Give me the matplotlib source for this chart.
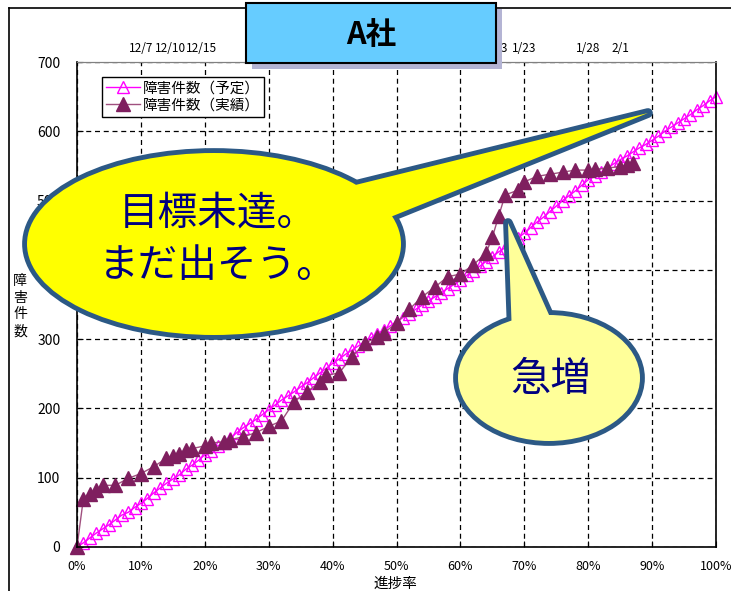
import matplotlib.pyplot as plt
import matplotlib.patches as mpatches
import matplotlib.transforms as mtransforms
from matplotlib.lines import Line2D
from matplotlib.ticker import PercentFormatter

plt.rcParams['font.family'] = ['Noto Sans CJK JP', 'DejaVu Sans']

# 障害件数(予定): 進捗率 0%〜100%
plan_pct = list(range(0, 101))
plan_cnt = [0, 6, 13, 20, 26, 32, 39, 46, 50, 57,
            63, 70, 78, 85, 92, 98, 104, 112, 118, 125,
            133, 139, 146, 150, 157, 165, 172, 178, 184, 191,
            198, 205, 212, 218, 224, 231, 237, 244, 251, 258,
            265, 271, 278, 284, 290, 296, 302, 308, 313, 319,
            325, 331, 337, 343, 349, 355, 361, 367, 373, 379,
            385, 392, 399, 405, 412, 419, 426, 432, 439, 446,
            453, 461, 469, 476, 484, 492, 500, 507, 514, 522,
            530, 536, 541, 547, 553, 559, 564, 570, 576, 581,
            587, 593, 600, 606, 612, 618, 624, 631, 637, 644,
            650]

# 障害件数(実績)
act_pct = [0, 1, 2, 3, 4, 6, 8, 10, 12, 14, 15, 16, 17, 18, 20, 21, 23, 24,
           26, 28, 30, 32, 34, 36, 38, 39, 41, 43, 45, 47, 48, 50, 52, 54,
           56, 58, 60, 62, 64, 65, 66, 67, 69, 70, 72, 74, 76, 78, 80, 81,
           83, 85, 86, 87]
act_cnt = [0, 70, 77, 82, 89, 89, 99, 106, 116, 128, 131, 134, 140, 142,
           146, 150, 152, 155, 159, 165, 174, 182, 210, 224, 238, 248, 251,
           274, 294, 303, 309, 323, 343, 361, 375, 390, 394, 407, 424, 447,
           478, 508, 515, 527, 535, 538, 541, 544, 544, 545, 547, 549, 551,
           554]

# 上軸の日付
date_pos = [10, 14.6, 19.5, 65.6, 70, 80, 85]
date_lbl = ['12/7', '12/10', '12/15', '1/13', '1/23', '1/28', '2/1']

W, H = 731, 591
fig = plt.figure(figsize=(W / 100, H / 100), dpi=100)
ax = fig.add_axes([77 / W, 1 - 547 / H, (716 - 77) / W, (547 - 62) / H])

# 左上原点のピクセル座標
px = mtransforms.Affine2D().scale(1 / W, -1 / H).translate(0, 1) + fig.transFigure

ax.plot(plan_pct, plan_cnt, color='#FF00FF', lw=1, marker='^', ms=9,
        mfc='none', mec='#FF00FF', mew=1, label='障害件数（予定）', clip_on=False)
ax.plot(act_pct, act_cnt, color='#A0507F', lw=1, marker='^', ms=10,
        mfc='#7F1F5F', mec='#7F1F5F', label='障害件数（実績）', clip_on=False)

ax.set_xlim(0, 100)
ax.set_ylim(0, 700)
ax.set_xticks(range(0, 101, 10))
ax.set_yticks(range(0, 701, 100))
ax.xaxis.set_major_formatter(PercentFormatter(decimals=0))
ax.grid(True, color='black', ls=(0, (4, 3)), lw=0.9)
ax.tick_params(axis='y', direction='in', length=4, labelsize=10, pad=12)
ax.tick_params(axis='x', direction='in', length=4, labelsize=9, pad=9)
for s in ('left', 'bottom', 'right'):
    ax.spines[s].set_linewidth(1.2)
ax.spines['top'].set_color('#808080')

top = ax.secondary_xaxis('top')
top.set_xticks(date_pos, date_lbl)
top.tick_params(length=0, labelsize=8.5, pad=5)
top.spines['top'].set_color('#808080')

ax.legend(loc='upper left', bbox_to_anchor=(102 / W, 1 - 77 / H),
          bbox_transform=fig.transFigure, borderaxespad=0, fancybox=False,
          edgecolor='black', framealpha=1, fontsize=10.5, labelspacing=0.2,
          handlelength=2.3, handletextpad=0.2, borderpad=0.3)

fig.text(20, 306, '障\n害\n件\n数', transform=px, ha='center', va='center',
         fontsize=10, linespacing=1.25)
fig.text(395, 584, '進捗率', transform=px, ha='center', va='center', fontsize=10.5)

# 外枠
fig.add_artist(Line2D([9, W], [8, 8], transform=px, color='black', lw=1.2))
fig.add_artist(Line2D([9, 9], [8, H], transform=px, color='black', lw=1.2))

# タイトルボックス
fig.add_artist(mpatches.Rectangle((252, 9), 250, 60, transform=px,
                                  fc='#B4B4D4', ec='none', zorder=2))
fig.add_artist(mpatches.Rectangle((246, 3), 250, 60, transform=px,
                                  fc='#66CCFF', ec='black', lw=1.5, zorder=3))
fig.text(371, 35, 'A社', transform=px, ha='center', va='center',
         fontsize=22, fontweight='bold', zorder=4)


def callout(center, width, height, tail, fc, ec, lw):
    # 枠線付きで描いた後に塗りだけ重ねて、楕円と尻尾の輪郭をつなげる
    for zo, edge in ((5, True), (6, False)):
        kw = dict(transform=px, zorder=zo, fc=fc,
                  ec=ec if edge else 'none', lw=2 * lw if edge else 0,
                  joinstyle='round')
        fig.add_artist(mpatches.Polygon(tail, closed=True, **kw))
        fig.add_artist(mpatches.Ellipse(center, width, height, **kw))


callout((214, 244), 374, 182, [(335, 190), (378, 222), (648, 113)],
        '#FFFF00', '#2C5985', 3.5)
fig.text(218, 240, '目標未達。\nまだ出そう。', transform=px, ha='center',
         va='center', fontsize=28.5, color='#000080', linespacing=1.4, zorder=7)

callout((549, 378), 182, 126, [(512, 335), (558, 335), (508, 223)],
        '#FFFF99', '#2C5985', 3.5)
fig.text(551, 380, '急増', transform=px, ha='center', va='center',
         fontsize=29, color='#000080', zorder=7)

fig.savefig('out.png', dpi=100)
